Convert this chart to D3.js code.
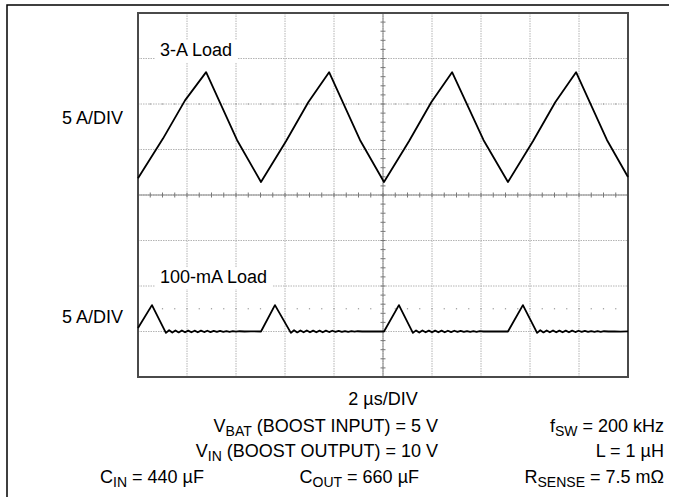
<!DOCTYPE html>
<html>
<head>
<meta charset="utf-8">
<script src="https://cdn.jsdelivr.net/npm/d3@7"></script>
<style>
  body { margin: 0; background: #fff; }
  text { font-family: "Liberation Sans", Arial, sans-serif; fill: #000; }
</style>
</head>
<body>
<svg id="scope" width="676" height="497"></svg>
<script>
// inductor current, 3-A load (time in us, current in A)
var heavyTrace = [
	[0, 1.85], [1.02, 6.2], [1.92, 10.4], [2.78, 13.5], [4.04, 6.05], [5.02, 1.43],
	[6.04, 5.9], [6.95, 10.2], [7.80, 13.5], [9.06, 6.05], [10.04, 1.43],
	[11.06, 5.9], [11.97, 10.2], [12.82, 13.5], [14.1, 6.05], [15.10, 1.43],
	[16.12, 5.9], [17.03, 10.2], [17.88, 13.5], [19.14, 6.05], [20, 1.98]
];

// inductor current, 100-mA load (pulses then ringing)
var lightTrace = [
	[0, 0.38], [0.57, 2.9], [1.14, -0.15],
	[1.27, 0.14], [1.40, -0.12], [1.53, 0.12], [1.66, -0.1], [1.79, 0.12], [1.92, -0.09],
	[2.05, 0.1], [2.18, -0.09], [2.31, 0.09], [2.44, -0.08], [2.57, 0.09], [2.70, -0.06],
	[2.83, 0.08], [2.96, -0.06], [3.09, 0.06], [3.22, -0.05], [3.35, 0.06], [3.48, -0.03],
	[3.61, 0.05], [3.74, -0.03], [3.87, 0.03], [4.00, -0.02], [4.15, 0.03], [4.35, 0],
	[4.6, 0.02], [5.02, 0],
	[5.59, 2.9], [6.24, -0.15],
	[6.37, 0.14], [6.50, -0.1], [6.63, 0.12], [6.76, -0.09], [6.89, 0.12], [7.02, -0.09],
	[7.15, 0.1], [7.28, -0.08], [7.41, 0.09], [7.54, -0.08], [7.67, 0.09], [7.80, -0.06],
	[7.93, 0.08], [8.06, -0.05], [8.19, 0.06], [8.32, -0.05], [8.45, 0.05], [8.58, -0.03],
	[8.71, 0.05], [8.84, -0.02], [8.97, 0.03], [9.15, 0], [9.4, 0.02], [9.7, 0], [10.04, 0],
	[10.65, 2.9], [11.22, -0.15],
	[11.35, 0.12], [11.48, -0.12], [11.61, 0.12], [11.74, -0.09], [11.87, 0.1], [12.00, -0.09],
	[12.13, 0.1], [12.26, -0.08], [12.39, 0.09], [12.52, -0.08], [12.65, 0.08], [12.78, -0.06],
	[12.91, 0.08], [13.04, -0.05], [13.17, 0.06], [13.30, -0.05], [13.43, 0.05], [13.56, -0.03],
	[13.69, 0.05], [13.82, -0.03], [13.95, 0.03], [14.1, 0], [14.3, 0.02], [14.6, 0], [15.10, 0],
	[15.71, 2.9], [16.29, -0.15],
	[16.42, 0.14], [16.55, -0.1], [16.68, 0.12], [16.81, -0.09], [16.94, 0.12], [17.07, -0.09],
	[17.20, 0.1], [17.33, -0.08], [17.46, 0.09], [17.59, -0.08], [17.72, 0.09], [17.85, -0.06],
	[17.98, 0.08], [18.11, -0.05], [18.24, 0.06], [18.37, -0.05], [18.50, 0.05], [18.63, -0.03],
	[18.76, 0.05], [18.89, -0.03], [19.02, 0.03], [19.2, 0], [19.45, 0.02], [19.7, -0.02], [20, 0.02]
];

var traceNames = ["3-A Load", "100-mA Load"];
var channelScale = ["5 A/DIV", "5 A/DIV"];
var timeScaleLabel = "2 \u00b5s/DIV";
var ampsPerDiv = 5;
var channelZero = [0, -3];      // divisions from screen centre
var markerLevel = [2, -2.5];    // dotted reference levels, divisions

var svg = d3.select("#scope");

var plotL = 138, plotR = 628, plotT = 13, plotB = 377;

var x = d3.scaleLinear().domain([0, 20]).range([plotL, plotR]);
var y = d3.scaleLinear().domain([-4, 4]).range([plotB, plotT]);

function toDiv(ch) {
	return function(d) { return y(d[1] / ampsPerDiv + channelZero[ch]); };
}

// outer figure border
svg.append("path")
	.attr("d", "M7,497V5H669")
	.attr("fill", "none")
	.attr("stroke", "#000")
	.attr("stroke-width", 1.5);

// graticule
var grid = svg.append("g");
grid.selectAll(".vgrid").data(x.ticks(10).slice(1, -1)).enter()
	.append("line")
	.attr("x1", function(d) { return x(d); })
	.attr("x2", function(d) { return x(d); })
	.attr("y1", plotT).attr("y2", plotB)
	.attr("stroke", "#b4b4b4")
	.attr("stroke-dasharray", "1.5,1")
	.attr("stroke-width", 1);
grid.selectAll(".hgrid").data(y.ticks(8).slice(1, -1)).enter()
	.append("line")
	.attr("y1", function(d) { return y(d); })
	.attr("y2", function(d) { return y(d); })
	.attr("x1", plotL).attr("x2", plotR)
	.attr("stroke", "#b4b4b4")
	.attr("stroke-dasharray", "1.5,1")
	.attr("stroke-width", 1);

// dotted reference levels
var minorX = x.ticks(50).slice(1, -1);
markerLevel.forEach(function(lv) {
	grid.selectAll(null).data(minorX).enter()
		.append("rect")
		.attr("x", function(d) { return x(d) - 0.6; })
		.attr("y", y(lv) - 0.6)
		.attr("width", 1.2).attr("height", 1.2)
		.attr("fill", "#999");
});

// centre cross with minor ticks
grid.append("line")
	.attr("x1", plotL).attr("x2", plotR)
	.attr("y1", y(0)).attr("y2", y(0))
	.attr("stroke", "#888").attr("stroke-width", 1);
grid.append("line")
	.attr("x1", x(10)).attr("x2", x(10))
	.attr("y1", plotT).attr("y2", plotB)
	.attr("stroke", "#888").attr("stroke-width", 1);
grid.selectAll(".xtick").data(minorX).enter()
	.append("line")
	.attr("x1", function(d) { return x(d); })
	.attr("x2", function(d) { return x(d); })
	.attr("y1", y(0) - 2.5).attr("y2", y(0) + 2.5)
	.attr("stroke", "#777").attr("stroke-width", 1);
grid.selectAll(".ytick").data(y.ticks(40).slice(1, -1)).enter()
	.append("line")
	.attr("y1", function(d) { return y(d); })
	.attr("y2", function(d) { return y(d); })
	.attr("x1", x(10) - 2.5).attr("x2", x(10) + 2.5)
	.attr("stroke", "#777").attr("stroke-width", 1);

// trace labels with white backing
var labelPos = [[160, 56], [160, 283]];
traceNames.forEach(function(name, i) {
	var t = svg.append("text")
		.attr("x", labelPos[i][0])
		.attr("y", labelPos[i][1])
		.attr("font-size", 18)
		.text(name);
	var b = t.node().getBBox();
	svg.insert("rect", "text")
		.attr("x", b.x - 5).attr("y", b.y)
		.attr("width", b.width + 10).attr("height", b.height + 2)
		.attr("fill", "#fff");
});

// frame
svg.append("rect")
	.attr("x", plotL).attr("y", plotT)
	.attr("width", plotR - plotL).attr("height", plotB - plotT)
	.attr("fill", "none")
	.attr("stroke", "#4a4a4a")
	.attr("stroke-width", 2);

// traces
var line0 = d3.line().x(function(d) { return x(d[0]); }).y(toDiv(0));
var line1 = d3.line().x(function(d) { return x(d[0]); }).y(toDiv(1));
svg.append("path").datum(heavyTrace)
	.attr("d", line0)
	.attr("fill", "none").attr("stroke", "#000")
	.attr("stroke-width", 1.8).attr("stroke-linejoin", "round");
svg.append("path").datum(lightTrace)
	.attr("d", line1)
	.attr("fill", "none").attr("stroke", "#000")
	.attr("stroke-width", 1.8).attr("stroke-linejoin", "round");

// channel scale labels
var scaleY = [124, 323];
channelScale.forEach(function(s, i) {
	svg.append("text")
		.attr("x", 123).attr("y", scaleY[i])
		.attr("text-anchor", "end")
		.attr("font-size", 18)
		.text(s);
});

svg.append("text")
	.attr("x", x(10)).attr("y", 405)
	.attr("text-anchor", "middle")
	.attr("font-size", 18)
	.text(timeScaleLabel);

// test conditions: [main, sub, rest]
var conditions = [
	{ x: 438, y: 432, anchor: "end", parts: ["V", "BAT", " (BOOST INPUT) = 5 V"] },
	{ x: 438, y: 457, anchor: "end", parts: ["V", "IN", " (BOOST OUTPUT) = 10 V"] },
	{ x: 100, y: 483, anchor: "start", parts: ["C", "IN", " = 440 \u00b5F"] },
	{ x: 419, y: 483, anchor: "end", parts: ["C", "OUT", " = 660 \u00b5F"] },
	{ x: 664, y: 432, anchor: "end", parts: ["f", "SW", " = 200 kHz"] },
	{ x: 664, y: 457, anchor: "end", parts: ["L = 1 \u00b5H", "", ""] },
	{ x: 664, y: 483, anchor: "end", parts: ["R", "SENSE", " = 7.5 m\u03a9"] }
];
conditions.forEach(function(c) {
	var t = svg.append("text")
		.attr("x", c.x).attr("y", c.y)
		.attr("text-anchor", c.anchor)
		.attr("font-size", 18);
	t.append("tspan").text(c.parts[0]);
	if (c.parts[1]) {
		t.append("tspan").attr("dy", 4).attr("font-size", 14).text(c.parts[1]);
		t.append("tspan").attr("dy", -4).text(c.parts[2]);
	}
});
</script>
</body>
</html>
